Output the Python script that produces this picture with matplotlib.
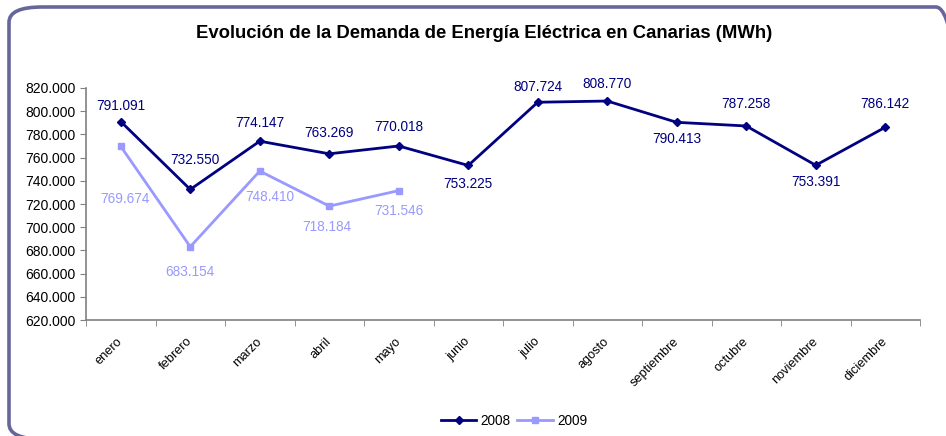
import matplotlib
matplotlib.use("Agg")
import matplotlib.pyplot as plt
from matplotlib.patches import FancyBboxPatch
from matplotlib.ticker import FuncFormatter, MultipleLocator
from matplotlib.transforms import ScaledTranslation

plt.rcParams["font.family"] = ["Liberation Sans", "DejaVu Sans"]

MESES = ["enero", "febrero", "marzo", "abril", "mayo", "junio", "julio",
         "agosto", "septiembre", "octubre", "noviembre", "diciembre"]
DEMANDA_2008 = [791091, 732550, 774147, 763269, 770018, 753225, 807724,
                808770, 790413, 787258, 753391, 786142]
DEMANDA_2009 = [769674, 683154, 748410, 718184, 731546]

# label offsets in points (dx, dy), negative dy = below the marker
OFFSETS_2008 = [(0, 11), (3, 21), (0, 13), (0, 15), (0, 14), (0, -13),
                (0, 11), (0, 12), (0, -12), (0, 16), (0, -12), (0, 17)]
OFFSETS_2009 = [(3, -38), (0, -18), (7, -19), (-2, -15), (0, -15)]

COLOR_2008 = "#000080"
COLOR_2009 = "#9999FF"
FRAME = "#66669A"


def miles(v, _pos=None):
    return f"{v:,.0f}".replace(",", ".")


fig = plt.figure(figsize=(9.46, 4.36), dpi=100)

# rounded frame around the chart
frame = FancyBboxPatch((9 / 946, -3 / 436), 960 / 946, 432 / 436,
                       boxstyle="round,pad=0,rounding_size=0.035",
                       transform=fig.transFigure, fill=False,
                       edgecolor=FRAME, linewidth=2.6, clip_on=False)
fig.patches.append(frame)

ax = fig.add_axes([86 / 946, 116 / 436, 834 / 946, 232 / 436])

x08 = list(range(len(DEMANDA_2008)))
x09 = list(range(len(DEMANDA_2009)))

l08, = ax.plot(x08, DEMANDA_2008, color=COLOR_2008, linewidth=2,
               marker="D", markersize=4.5, label="2008")
l09, = ax.plot(x09, DEMANDA_2009, color=COLOR_2009, linewidth=2,
               marker="s", markersize=4.5, label="2009")

for xi, v, off in zip(x08, DEMANDA_2008, OFFSETS_2008):
    ax.annotate(miles(v), (xi, v), xytext=off, textcoords="offset points",
                ha="center", va="center", fontsize=9.8, color=COLOR_2008)
for xi, v, off in zip(x09, DEMANDA_2009, OFFSETS_2009):
    ax.annotate(miles(v), (xi, v), xytext=off, textcoords="offset points",
                ha="center", va="center", fontsize=9.8, color=COLOR_2009)

ax.set_xlim(-0.5, len(MESES) - 0.5)
ax.set_ylim(620000, 820000)
ax.yaxis.set_major_locator(MultipleLocator(20000))
ax.yaxis.set_major_formatter(FuncFormatter(miles))

# category labels centred, tick marks on the boundaries
ax.set_xticks(x08)
ax.set_xticklabels(MESES, rotation=45, ha="right", rotation_mode="anchor",
                   fontsize=9.2)
ax.tick_params(axis="x", length=0, pad=8)
shift = ScaledTranslation(-3 / 72, -3 / 72, fig.dpi_scale_trans)
for lbl in ax.get_xticklabels():
    lbl.set_transform(lbl.get_transform() + shift)
ax.set_xticks([i - 0.5 for i in range(len(MESES) + 1)], minor=True)
ax.tick_params(axis="x", which="minor", length=4, color="#808080",
               direction="out")
ax.tick_params(axis="y", length=4, color="#808080", direction="out",
               labelsize=10)

for side in ("top", "right"):
    ax.spines[side].set_visible(False)
for side in ("left", "bottom"):
    ax.spines[side].set_color("#808080")
    ax.spines[side].set_linewidth(1.2)

fig.text(484 / 946, 1 - 33 / 436,
         "Evolución de la Demanda de Energía Eléctrica en Canarias (MWh)",
         ha="center", va="center", fontsize=13.3, fontweight="bold")

fig.legend(handles=[l08, l09], loc="center", bbox_to_anchor=(514 / 946, 1 - 421 / 436),
           ncol=2, frameon=False, fontsize=9.8, handlelength=2.6,
           handletextpad=0.3, columnspacing=0.5)

fig.savefig("out.png", dpi=100)
